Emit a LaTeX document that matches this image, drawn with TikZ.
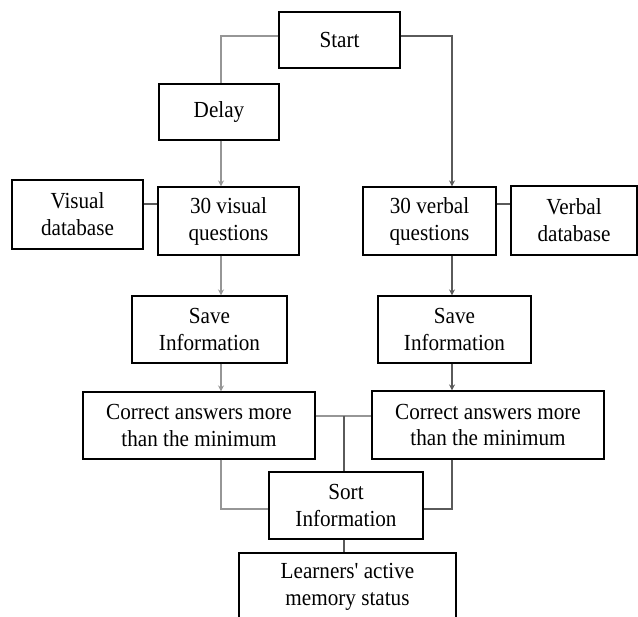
\documentclass[tikz,border=0pt]{standalone}
\usepackage{fontspec}
\setmainfont[FakeStretch=0.92]{Liberation Serif}
\newfontfamily\plainquote[FakeStretch=0.92]{Liberation Serif}
\usetikzlibrary{arrows.meta}
\begin{document}
\begin{tikzpicture}[x=1pt,y=-1pt,
  box/.style={draw=black,line width=1.1pt,rectangle,inner sep=0pt,align=center,
    font=\fontsize{23}{27}\selectfont},
  lnL/.style={draw={rgb,255:red,150;green,150;blue,150},line width=1.1pt},
  lnR/.style={draw={rgb,255:red,90;green,90;blue,90},line width=1.1pt},
  tip/.style={-{Stealth[length=6pt,width=6pt]}}]
\clip (0,0) rectangle (638,617);
\useasboundingbox (0,0) rectangle (638,617);
\coordinate (lc) at (221,0);
\coordinate (rc) at (452,0);
\coordinate (r1) at (0,36);
\coordinate (r2) at (0,204);
\coordinate (r3) at (0,416);
\coordinate (r4) at (0,509);
\coordinate (jx) at (344,0);

\node[box,minimum width=121pt,minimum height=56pt] (start) at (339.5,40) {Start};
\node[box,minimum width=120pt,minimum height=56pt] (delay) at (219,112) {Delay};
\node[box,minimum width=131pt,minimum height=69pt] (visdb) at (77.5,214.5) {Visual\\database};
\node[box,minimum width=141pt,minimum height=68pt] (visq) at (228.5,221) {30 visual\\questions};
\node[box,minimum width=133pt,minimum height=68pt] (verbq) at (429.5,221) {30 verbal\\questions};
\node[box,minimum width=126pt,minimum height=69pt] (verbdb) at (574,220.5) {Verbal\\database};
\node[box,minimum width=155pt,minimum height=67pt] (saveL) at (209.5,329.5) {Save\\Information};
\node[box,minimum width=153pt,minimum height=67pt] (saveR) at (454.5,329.5) {Save\\Information};
\node[box,minimum width=232pt,minimum height=67pt] (corrL) at (199,425.5) {Correct answers more\\than the minimum};
\node[box,minimum width=232pt,minimum height=68pt] (corrR) at (488,425) {Correct answers more\\than the minimum};
\node[box,minimum width=154pt,minimum height=67pt] (sort) at (346,505.5) {Sort\\Information};
\node[box,minimum width=217pt,minimum height=68pt] (learn) at (347.5,587) {Learners{\plainquote'} active\\memory status};

% top branches
\draw[lnL] (start.west |- r1) -| (delay.north -| lc);
\draw[lnL,tip] (delay.south -| lc) -- (visq.north -| lc);
\draw[lnR,tip] (start.east |- r1) -| (verbq.north -| rc);
% databases
\draw[lnR] (visdb.east |- r2) -- (visq.west |- r2);
\draw[lnR] (verbq.east |- r2) -- (verbdb.west |- r2);
% columns
\draw[lnL,tip] (visq.south -| lc) -- (saveL.north -| lc);
\draw[lnR,tip] (verbq.south -| rc) -- (saveR.north -| rc);
\draw[lnL,tip] (saveL.south -| lc) -- (corrL.north -| lc);
\draw[lnR,tip] (saveR.south -| rc) -- (corrR.north -| rc);
% to sort
\draw[lnL] (corrL.east |- r3) -- (corrR.west |- r3);
\draw[lnR] (jx |- r3) -- (sort.north -| jx);
\draw[lnL] (corrL.south -| lc) |- (sort.west |- r4);
\draw[lnR] (corrR.south -| rc) |- (sort.east |- r4);
\draw[lnR] (sort.south -| jx) -- (learn.north -| jx);
\end{tikzpicture}
\end{document}
